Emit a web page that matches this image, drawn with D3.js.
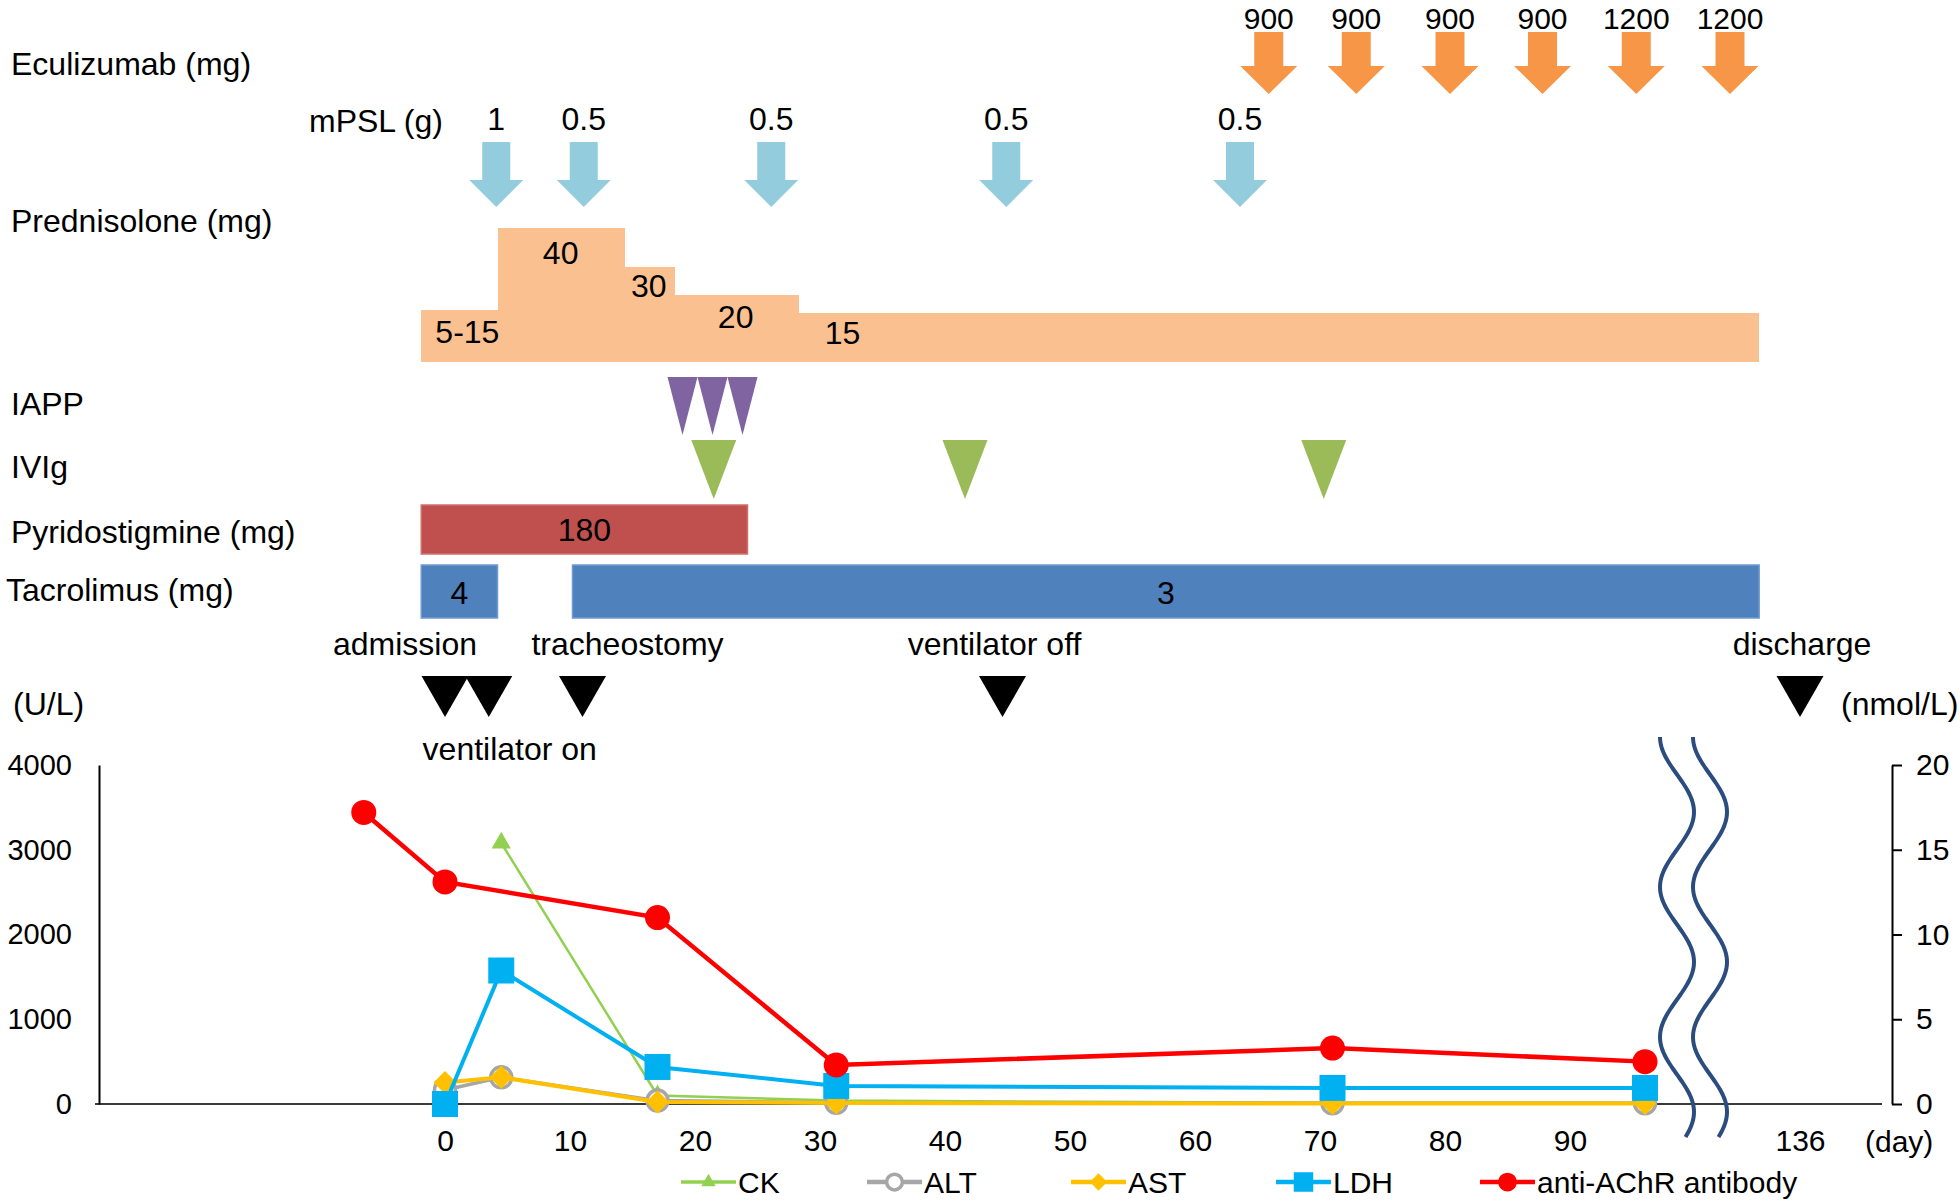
<!DOCTYPE html>
<html><head><meta charset="utf-8">
<script src="https://cdn.jsdelivr.net/npm/d3@7"></script>
<style>
html,body{margin:0;padding:0;background:#fff;}
svg text{font-family:"Liberation Sans",Arial,sans-serif;fill:#000;}
</style></head><body>
<svg id="chart" width="1960" height="1202"></svg>
<script>
// ---------------- data ----------------
const eculizumabDays = [65.9, 72.9, 80.4, 87.8, 95.3, 112];
const eculizumabDoses = ["900", "900", "900", "900", "1200", "1200"];
const mpslDays = [4.1, 11.1, 26.1, 44.9, 63.6];
const mpslDoses = ["1", "0.5", "0.5", "0.5", "0.5"];
const prednisoloneStart = [-1.9, 4.2, 14.3, 18.3, 28.2];
const prednisoloneEnd = [4.2, 14.3, 18.3, 28.2, 122];
const prednisoloneLevel = [15.5, 40, 28.5, 20, 14.5];
const prednisoloneLabels = ["5-15", "40", "30", "20", "15"];
const iappDays = [19, 21.4, 23.8];
const ivigDays = [21.5, 41.6, 70.3];
const pyridostigmineStart = [-1.9];
const pyridostigmineEnd = [24.2];
const pyridostigmineLabels = ["180"];
const tacrolimusStart = [-1.9, 10.2];
const tacrolimusEnd = [4.2, 122];
const tacrolimusLabels = ["4", "3"];
const eventDays = [0, 3.5, 11, 44.6, 136];
const eventNames = ["admission", "ventilator on", "tracheostomy", "ventilator off", "discharge"];

const labDays = [-6.5, 0, 4.5, 17, 31.3, 71, 96];
const ck = [null, null, 3080, 100, 40, 15, 15];
const alt = [null, 165, 315, 40, 15, 8, 8];
const ast = [null, 255, 315, 25, 12, 5, 5];
const ldh = [null, 0, 1575, 437, 213, 190, 190];
const antiAChR = [17.2, 13.1, null, 11.0, 2.3, 3.3, 2.5];

const xTicks = [0, 10, 20, 30, 40, 50, 60, 70, 80, 90, 136];
const leftTicks = [0, 1000, 2000, 3000, 4000];
const rightTicks = [0, 5, 10, 15, 20];
const breakDay = 100;

// ---------------- layout ----------------
const svg = d3.select("#chart");
svg.append("rect").attr("width", 1960).attr("height", 1202).attr("fill", "#fff");

const x = d3.scaleLinear().domain([-10, breakDay, 136]).range([320, 1695, 1800]);
const yL = d3.scaleLinear().domain([0, 4000]).range([1104, 765]);
const yR = d3.scaleLinear().domain([0, 20]).range([1104, 765]);
const yP = d3.scaleLinear().domain([0, 40]).range([362, 228]);

const FS = 32;
const FONT = '"Liberation Sans",Arial,sans-serif';
function txt(g, s, px, py, anchor, size) {
  return g.append("text").attr("x", px).attr("y", py)
    .attr("text-anchor", anchor || "start")
    .attr("dominant-baseline", "central")
    .attr("font-size", size || FS).text(s);
}
function downArrow(cx, t, headTop, tip, sh, hh) {
  return `M${cx - sh},${t}H${cx + sh}V${headTop}H${cx + hh}L${cx},${tip}L${cx - hh},${headTop}H${cx - sh}Z`;
}
function downTri(cx, t, tip, hw) {
  return `M${cx - hw},${t}H${cx + hw}L${cx},${tip}Z`;
}

const gTop = svg.append("g");
// row labels
txt(gTop, "Eculizumab (mg)", 11, 64);
txt(gTop, "mPSL (g)", 309, 121);
txt(gTop, "Prednisolone (mg)", 11, 221);
txt(gTop, "IAPP", 11, 404);
txt(gTop, "IVIg", 11, 467);
txt(gTop, "Pyridostigmine (mg)", 11, 532);
txt(gTop, "Tacrolimus (mg)", 6, 590);

// Eculizumab arrows
eculizumabDays.forEach((d, i) => {
  gTop.append("path").attr("d", downArrow(x(d), 32, 66, 94, 14.5, 28.5)).attr("fill", "#f79646");
  txt(gTop, eculizumabDoses[i], x(d), 18, "middle", 30);
});
// mPSL arrows
mpslDays.forEach((d, i) => {
  gTop.append("path").attr("d", downArrow(x(d), 142, 180, 207, 14, 27)).attr("fill", "#93cddd");
  txt(gTop, mpslDoses[i], x(d), 119, "middle");
});
// Prednisolone steps
prednisoloneStart.forEach((s, i) => {
  const e = prednisoloneEnd[i];
  gTop.append("rect").attr("x", x(s)).attr("y", yP(prednisoloneLevel[i]))
    .attr("width", x(e) - x(s) + (i < prednisoloneStart.length - 1 ? 1 : 0))
    .attr("height", yP(0) - yP(prednisoloneLevel[i]))
    .attr("fill", "#fac090").attr("shape-rendering", "crispEdges");
});
const predLabelDx = [8, 0, 0, 0, 0];
const predLabelDy = [22, 25, 19, 22, 20];
prednisoloneStart.forEach((s, i) => {
  const e = prednisoloneEnd[i];
  const lx = i === prednisoloneStart.length - 1 ? x(s) + 45 : (x(s) + x(e)) / 2 + predLabelDx[i];
  txt(gTop, prednisoloneLabels[i], lx, yP(prednisoloneLevel[i]) + predLabelDy[i], "middle");
});
// IAPP
iappDays.forEach(d => gTop.append("path").attr("d", downTri(x(d), 377, 435, 15)).attr("fill", "#8064a2"));
// IVIg
ivigDays.forEach(d => gTop.append("path").attr("d", downTri(x(d), 440, 499, 22.5)).attr("fill", "#9bbb59"));
// Pyridostigmine
pyridostigmineStart.forEach((s, i) => {
  const e = pyridostigmineEnd[i];
  gTop.append("rect").attr("x", x(s)).attr("y", 505).attr("width", x(e) - x(s)).attr("height", 49)
    .attr("fill", "#c0504d").attr("stroke", "#d0706d").attr("stroke-width", 1.5);
  txt(gTop, pyridostigmineLabels[i], (x(s) + x(e)) / 2, 530, "middle");
});
// Tacrolimus
tacrolimusStart.forEach((s, i) => {
  const e = tacrolimusEnd[i];
  gTop.append("rect").attr("x", x(s)).attr("y", 565).attr("width", x(e) - x(s)).attr("height", 53)
    .attr("fill", "#4f81bd").attr("stroke", "#6f9bd1").attr("stroke-width", 1.5);
  txt(gTop, tacrolimusLabels[i], (x(s) + x(e)) / 2, 593, "middle");
});
// events
const eventLabelDx = [-40, 21, 45, -8, 2];
const eventLabelY = [643.5, 748.5, 643.5, 643.5, 643.5];
eventDays.forEach((d, i) => {
  gTop.append("path").attr("d", downTri(x(d), 676, 717, 23.5)).attr("fill", "#000");
  txt(gTop, eventNames[i], x(d) + eventLabelDx[i], eventLabelY[i], "middle");
});

// ---------------- lower chart ----------------
const low = svg.append("g");
txt(low, "(U/L)", 13, 704);
txt(low, "(nmol/L)", 1841, 704);

// zero line
low.append("line").attr("x1", 95).attr("x2", 1882).attr("y1", yL(0)).attr("y2", yL(0))
  .attr("stroke", "#3a3a3a").attr("stroke-width", 2);

// left axis
const gL = low.append("g").attr("transform", "translate(99,0)")
  .call(d3.axisLeft(yL).tickValues(leftTicks).tickFormat(d3.format("d"))
    .tickSize(0).tickSizeOuter(0).tickPadding(27));
gL.select(".domain").attr("stroke", "#000").attr("stroke-width", 2);
gL.selectAll("text").attr("font-size", 29).attr("font-family", FONT);

// right axis
const gR = low.append("g").attr("transform", "translate(1892,0)")
  .call(d3.axisRight(yR).tickValues(rightTicks).tickFormat(d3.format("d"))
    .tickSize(10).tickSizeOuter(0).tickPadding(14));
gR.select(".domain").attr("stroke", "#000").attr("stroke-width", 2);
gR.selectAll(".tick line").attr("stroke", "#000").attr("stroke-width", 2);
gR.selectAll("text").attr("font-size", 30).attr("font-family", FONT);

// bottom axis labels
const gB = low.append("g").attr("transform", `translate(0,${yL(0)})`)
  .call(d3.axisBottom(x).tickValues(xTicks).tickFormat(d3.format("d")).tickSize(0).tickPadding(26));
gB.select(".domain").remove();
gB.selectAll("text").attr("font-size", 30).attr("font-family", FONT);
txt(low, "(day)", 1865, 1141, "start", 30);

// axis break
const breakX = x(breakDay);
[breakX - 18, breakX + 15].forEach(cx => {
  const pts = d3.range(737, 1138, 2).map(yy => [cx - 17 * Math.cos(Math.PI * (yy - 737) / 75), yy]);
  low.append("path").attr("d", d3.line().curve(d3.curveBasis)(pts))
    .attr("fill", "none").attr("stroke", "#2b4c7e").attr("stroke-width", 4);
});

// series
const series = [
  { name: "CK", vals: ck, y: yL, color: "#92d050", width: 2.5, marker: "triangle" },
  { name: "ALT", vals: alt, y: yL, color: "#a6a6a6", width: 3.5, marker: "ring" },
  { name: "AST", vals: ast, y: yL, color: "#ffc000", width: 4, marker: "diamond" },
  { name: "LDH", vals: ldh, y: yL, color: "#00b0f0", width: 4, marker: "square" },
  { name: "anti-AChR antibody", vals: antiAChR, y: yR, color: "#ff0000", width: 4.5, marker: "circle" }
];
function drawMarker(g, type, color, px, py, scale) {
  const s = scale || 1;
  if (type === "triangle") {
    g.append("path").attr("d", d3.symbol(d3.symbolTriangle, 160 * s * s)())
      .attr("transform", `translate(${px},${py})`).attr("fill", color);
  } else if (type === "ring") {
    g.append("circle").attr("cx", px).attr("cy", py).attr("r", 10.5 * s)
      .attr("fill", "#fff").attr("stroke", color).attr("stroke-width", 3.5);
  } else if (type === "diamond") {
    g.append("path").attr("d", d3.symbol(d3.symbolSquare, 2 * 11.5 * 11.5 * s * s)())
      .attr("transform", `translate(${px},${py}) rotate(45)`).attr("fill", color);
  } else if (type === "square") {
    g.append("path").attr("d", d3.symbol(d3.symbolSquare, 26 * 26 * s * s)())
      .attr("transform", `translate(${px},${py})`).attr("fill", color);
  } else {
    g.append("circle").attr("cx", px).attr("cy", py).attr("r", 12.5 * s).attr("fill", color);
  }
}
series.forEach(sr => {
  const pts = labDays.map((d, i) => [d, sr.vals[i]]).filter(p => p[1] !== null);
  const g = low.append("g");
  g.append("path").attr("d", d3.line().x(p => x(p[0])).y(p => sr.y(p[1]))(pts))
    .attr("fill", "none").attr("stroke", sr.color).attr("stroke-width", sr.width);
  pts.forEach(p => drawMarker(g, sr.marker, sr.color, x(p[0]), sr.y(p[1])));
});

// legend
const legendX = [681, 867, 1071, 1276, 1480];
series.forEach((sr, i) => {
  const x0 = legendX[i], ly = 1182;
  const g = low.append("g");
  g.append("line").attr("x1", x0).attr("x2", x0 + 55).attr("y1", ly).attr("y2", ly)
    .attr("stroke", sr.color).attr("stroke-width", i === 0 ? 3.5 : 4.5);
  drawMarker(g, sr.marker, sr.color, x0 + 27.5, ly, 0.75);
  txt(g, sr.name, x0 + 57, ly, "start", 30);
});
</script>
</body></html>
